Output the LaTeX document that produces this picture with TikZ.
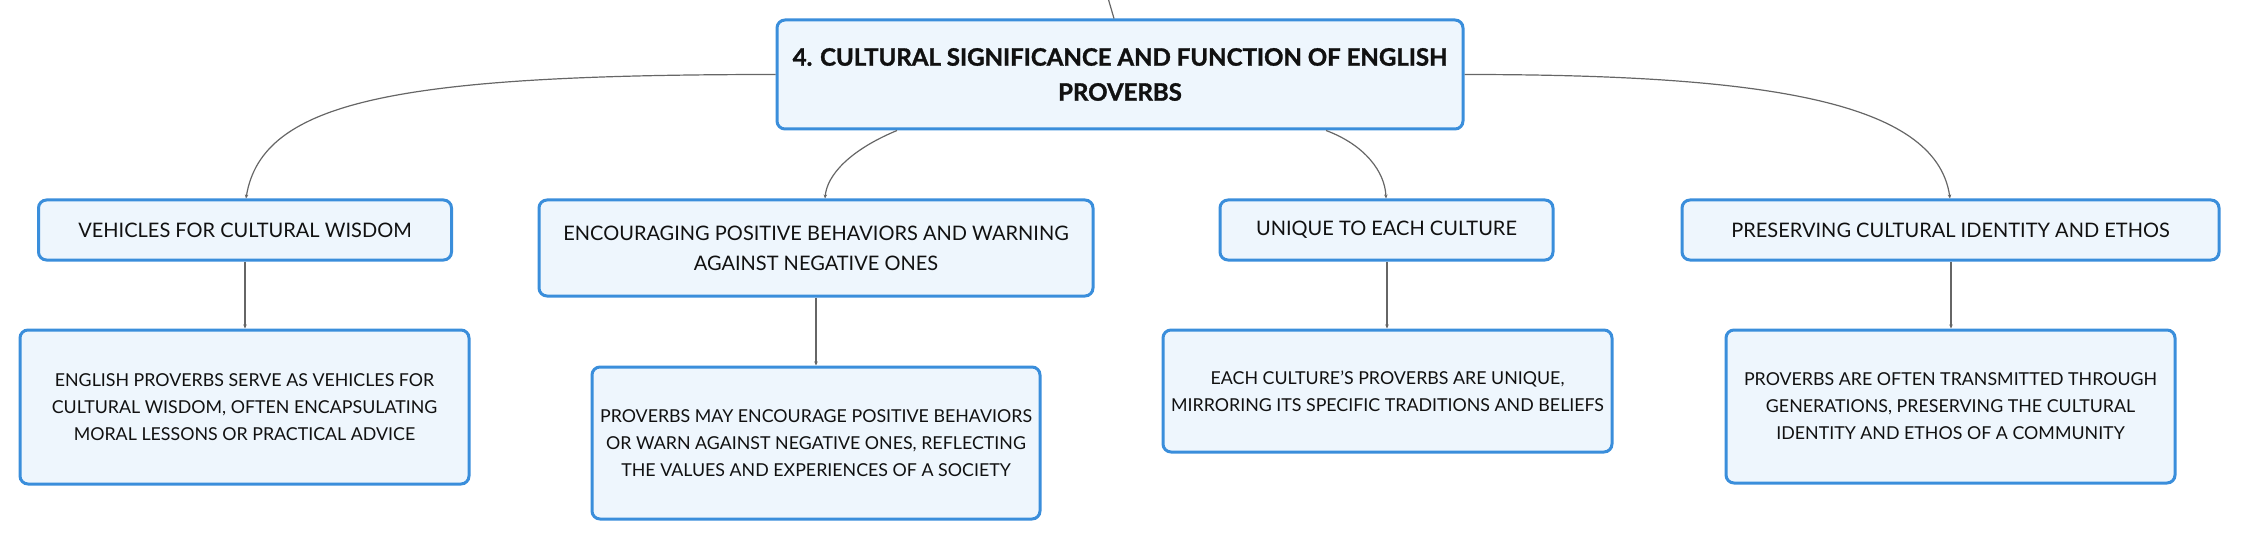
\documentclass[tikz,border=0pt]{standalone}
\usepackage{fontspec}
\setmainfont{Lato}
\newfontfamily\heavyfont{Lato}[BoldFeatures={FakeBold=1.3}]
\usetikzlibrary{arrows.meta}
\definecolor{boxborder}{HTML}{3A8EDB}
\definecolor{boxfill}{HTML}{EEF6FD}
\definecolor{linkgray}{HTML}{666666}
\definecolor{txt}{HTML}{111111}
\tikzset{
  card/.style={draw=boxborder, fill=boxfill, line width=3pt, rounded corners=8pt,
    inner sep=0pt, align=center, text=txt},
  topic/.style={card, font=\fontsize{24}{35}\selectfont\heavyfont\bfseries},
  sub/.style={card, font=\fontsize{20}{30}\selectfont},
  leaf/.style={card, font=\fontsize{17.8}{27}\selectfont},
  link/.style={draw=linkgray, line width=1.2pt},
  arrowlink/.style={link, -{Stealth[length=4pt,width=3.5pt]}},
}
\begin{document}
\begin{tikzpicture}[x=1pt,y=-1pt]
\useasboundingbox (0,0) rectangle (2241,540);
% central topic
\node[topic, minimum width=686pt, minimum height=109pt] (c) at (1120,74.5)
  {4. CULTURAL SIGNIFICANCE AND FUNCTION OF ENGLISH\\PROVERBS};
% level 1
\node[sub, minimum width=413pt, minimum height=60pt] (v1) at (245,230)
  {VEHICLES FOR CULTURAL WISDOM};
\node[sub, minimum width=554pt, minimum height=96pt] (v2) at (816,248)
  {ENCOURAGING POSITIVE BEHAVIORS AND WARNING\\AGAINST NEGATIVE ONES};
\node[sub, minimum width=333pt, minimum height=60pt] (v3) at (1386.5,230)
  {UNIQUE TO EACH CULTURE};
\node[sub, minimum width=537pt, minimum height=60pt] (v4) at (1950.5,230)
  {PRESERVING CULTURAL IDENTITY AND ETHOS};
% level 2
\node[leaf, minimum width=449pt, minimum height=154pt] (l1) at (244.5,407)
  {ENGLISH PROVERBS SERVE AS VEHICLES FOR\\CULTURAL WISDOM, OFTEN ENCAPSULATING\\MORAL LESSONS OR PRACTICAL ADVICE};
\node[leaf, minimum width=448pt, minimum height=152pt] (l2) at (816,443)
  {PROVERBS MAY ENCOURAGE POSITIVE BEHAVIORS\\OR WARN AGAINST NEGATIVE ONES, REFLECTING\\THE VALUES AND EXPERIENCES OF A SOCIETY};
\node[leaf, minimum width=449pt, minimum height=122pt] (l3) at (1387.5,391)
  {EACH CULTURE'S PROVERBS ARE UNIQUE,\\MIRRORING ITS SPECIFIC TRADITIONS AND BELIEFS};
\node[leaf, minimum width=449pt, minimum height=153pt] (l4) at (1950.5,406.5)
  {PROVERBS ARE OFTEN TRANSMITTED THROUGH\\GENERATIONS, PRESERVING THE CULTURAL\\IDENTITY AND ETHOS OF A COMMUNITY};
% connectors
\coordinate (up) at (1108,-2);
\draw[link] (up) -- (c.north -| 1114,0);
\draw[arrowlink] (c.west) .. controls (400,74.5) and (262,100) .. (v1.north -| 246,0);
\draw[arrowlink] (c.east) .. controls (1760,74.5) and (1936,100) .. (v4.north -| 1950,0);
\draw[arrowlink] (c.south -| 897,0) .. controls (850,150) and (827,175) .. (v2.north -| 825,0);
\draw[arrowlink] (c.south -| 1326,0) .. controls (1365,145) and (1385,172) .. (v3.north -| 1386,0);
\draw[arrowlink] (v1.south -| 245,0) -- (l1.north -| 245,0);
\draw[arrowlink] (v2.south) -- (l2.north);
\draw[arrowlink] (v3.south -| 1387,0) -- (l3.north -| 1387,0);
\draw[arrowlink] (v4.south -| 1951,0) -- (l4.north -| 1951,0);
\end{tikzpicture}
\end{document}
